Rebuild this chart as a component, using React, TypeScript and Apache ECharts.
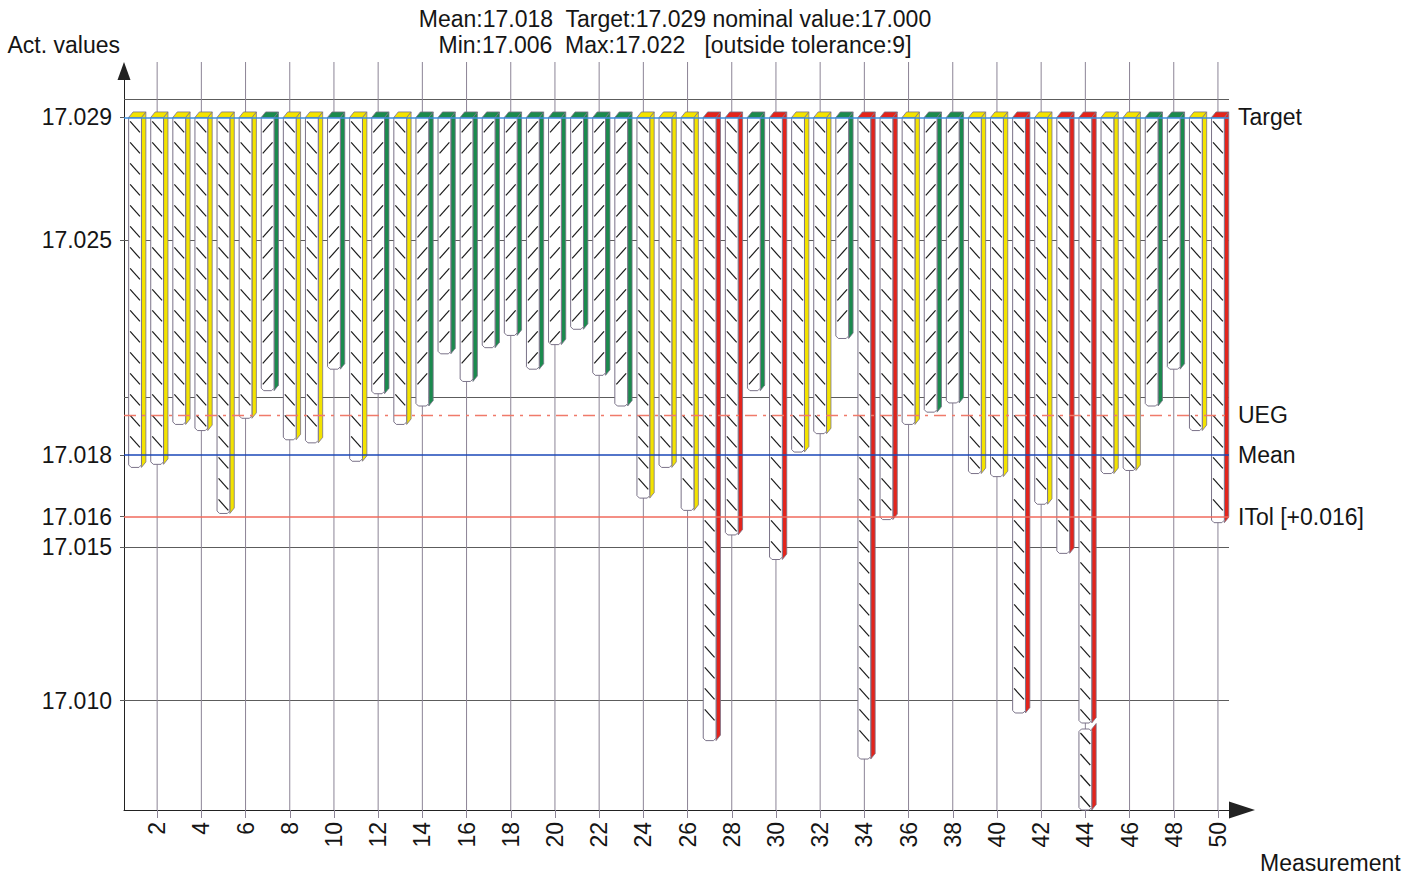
import React, { useEffect, useRef } from "react";
import * as echarts from "echarts";

// ---- data ----
const measurementLabels = [
  "1", "2", "3", "4", "5", "6", "7", "8", "9", "10",
  "11", "12", "13", "14", "15", "16", "17", "18", "19", "20",
  "21", "22", "23", "24", "25", "26", "27", "28", "29", "30",
  "31", "32", "33", "34", "35", "36", "37", "38", "39", "40",
  "41", "42", "43", "44", "45", "46", "47", "48", "49", "50",
];

const actValues = [
  17.0176, 17.0177, 17.019, 17.0188, 17.0161, 17.0192, 17.0201, 17.0185, 17.0184, 17.0208,
  17.0178, 17.02, 17.019, 17.0196, 17.0213, 17.0204, 17.0215, 17.0219, 17.0208, 17.0216,
  17.0221, 17.0206, 17.0196, 17.0166, 17.0176, 17.0162, 17.0087, 17.0154, 17.0201, 17.0146,
  17.0181, 17.0187, 17.0218, 17.0081, 17.0159, 17.019, 17.0194, 17.0197, 17.0174, 17.0173,
  17.0096, 17.0164, 17.0148, 17.006, 17.0174, 17.0175, 17.0196, 17.0208, 17.0188, 17.0158,
];

const TARGET = 17.029;
const NOMINAL = 17.0;
const MEAN = 17.018;
const MIN_VALUE = 17.006;
const MAX_VALUE = 17.022;
const OUTSIDE_TOLERANCE = 9;
const UEG = 17.0193;
const ITOL = 17.016;

const grayLineValues = [17.0296, 17.025, 17.0199, 17.015, 17.01];
const yTickValues = [17.029, 17.025, 17.018, 17.016, 17.015, 17.01];

const Y_MIN = 17.00644;
const Y_MAX = 17.03022;

// ---- styles ----
const FONT = '"Liberation Sans", Arial, Helvetica, sans-serif';
const TEXT = "#151515";
const GRID = "#8c8496";
const OUTLINE = "#7a7288";
const YELLOW = "#f3e300";
const GREEN = "#1b8a4e";
const RED = "#e3241c";

function renderBar(params: any, api: any) {
  const idx = api.value(0) as number;
  const val = api.value(1) as number;
  const cs = params.coordSys;
  const top = api.coord([idx, TARGET]);
  const cx = top[0];
  const yTop = top[1];
  const plotBottom = cs.y + cs.height;
  const slot = api.size([1, 0])[0];
  const fw = slot * 0.58;
  const dx = slot * 0.2;
  const dy = 5.5;
  const left = cx - fw / 2;
  const right = left + fw;
  const broken = val < Y_MIN;
  const yEnd = broken ? plotBottom : api.coord([idx, val])[1];
  const color = val < ITOL ? RED : val < UEG ? YELLOW : GREEN;
  const backslash = color !== GREEN;
  const children: any[] = [];

  if ((idx + 1) % 2 === 0) {
    children.push({
      type: "line",
      shape: { x1: cx, y1: cs.y - 18, x2: cx, y2: plotBottom },
      style: { stroke: GRID, lineWidth: 1 },
      silent: true,
    });
  }

  const c = 2.5;
  const piece = (y1: number, y2: number, withTop: boolean, chamferTop: boolean) => {
    children.push({
      type: "polygon",
      shape: { points: [[right, y1], [right + dx, y1 - dy], [right + dx, y2 - dy], [right, y2]] },
      style: { fill: color, stroke: OUTLINE, lineWidth: 0.8 },
    });
    const pts = chamferTop
      ? [[left + c, y1], [right - c, y1], [right, y1 + c], [right, y2 - c], [right - c, y2], [left + c, y2], [left, y2 - c], [left, y1 + c]]
      : [[left, y1], [right, y1], [right, y2 - c], [right - c, y2], [left + c, y2], [left, y2 - c]];
    children.push({
      type: "polygon",
      shape: { points: pts },
      style: { fill: "#ffffff", stroke: OUTLINE, lineWidth: 1 },
    });
    for (let y = y1 + 4; y + 11 <= y2 - 2; y += 21) {
      children.push({
        type: "line",
        shape: backslash
          ? { x1: left + 1.5, y1: y, x2: right - 1.5, y2: y + 11 }
          : { x1: left + 1.5, y1: y + 11, x2: right - 1.5, y2: y },
        style: { stroke: "#1a1a1a", lineWidth: 1.2 },
      });
    }
    if (withTop) {
      children.push({
        type: "polygon",
        shape: { points: [[left, y1], [left + dx, y1 - dy], [right + dx, y1 - dy], [right, y1]] },
        style: { fill: color, stroke: OUTLINE, lineWidth: 0.8 },
      });
    }
  };

  if (broken) {
    const br = plotBottom - 84;
    piece(yTop, br - 3, true, false);
    piece(br + 3, yEnd, false, true);
  } else {
    piece(yTop, yEnd, true, false);
  }
  return { type: "group", children };
}

export default function App() {
  const ref = useRef<HTMLDivElement>(null);

  useEffect(() => {
    if (!ref.current) return;
    const chart = echarts.init(ref.current, null, { renderer: "svg" });
    const line1 = `Mean:${MEAN.toFixed(3)}  Target:${TARGET.toFixed(3)} nominal value:${NOMINAL.toFixed(3)}`;
    const line2 = `Min:${MIN_VALUE.toFixed(3)}  Max:${MAX_VALUE.toFixed(3)}   [outside tolerance:${OUTSIDE_TOLERANCE}]`;
    const itolLabel = `ITol [+${(ITOL - NOMINAL).toFixed(3)}]`;
    const evenOnly = (i: number) => i % 2 === 1;

    chart.setOption({
      animation: false,
      backgroundColor: "#ffffff",
      textStyle: { fontFamily: FONT },
      graphic: [
        {
          type: "text",
          x: 675,
          y: 7,
          silent: true,
          style: { text: line1, align: "center", textAlign: "center", verticalAlign: "top", fontSize: 23, fontFamily: FONT, fill: TEXT },
        },
        {
          type: "text",
          x: 675,
          y: 33,
          silent: true,
          style: { text: line2, align: "center", textAlign: "center", verticalAlign: "top", fontSize: 23, fontFamily: FONT, fill: TEXT },
        },
      ],
      grid: { left: 124, right: 187, top: 80, bottom: 64, containLabel: false },
      xAxis: {
        type: "category",
        data: measurementLabels,
        boundaryGap: true,
        name: "Measurement",
        nameLocation: "end",
        nameGap: 31,
        nameTextStyle: { fontSize: 23, color: TEXT, fontFamily: FONT, align: "left", verticalAlign: "top", padding: [41, 0, 0, 0] },
        axisLine: {
          show: true,
          onZero: false,
          symbol: ["none", "triangle"],
          symbolSize: [17, 26],
          symbolOffset: [0, 13],
          lineStyle: { color: "#222", width: 1 },
        },
        axisTick: { show: true, alignWithLabel: true, interval: evenOnly, length: 8, lineStyle: { color: GRID } },
        axisLabel: { interval: evenOnly, rotate: 90, fontSize: 23, color: TEXT, fontFamily: FONT, margin: 12 },
        splitLine: { show: false },
      },
      yAxis: {
        type: "value",
        min: Y_MIN,
        max: Y_MAX,
        name: "Act. values",
        nameLocation: "end",
        nameGap: 24,
        nameTextStyle: { fontSize: 23, color: TEXT, fontFamily: FONT, align: "right", verticalAlign: "bottom", padding: [0, 4, 0, 0] },
        axisLine: {
          show: true,
          symbol: ["none", "triangle"],
          symbolSize: [13, 18],
          symbolOffset: [0, 9],
          lineStyle: { color: "#222", width: 1 },
        },
        axisTick: { show: true, customValues: yTickValues, length: 4, lineStyle: { color: "#5c5c5c" } },
        axisLabel: {
          customValues: yTickValues,
          formatter: (v: number) => v.toFixed(3),
          fontSize: 23,
          color: TEXT,
          fontFamily: FONT,
          margin: 12,
        },
        splitLine: { show: false },
      },
      series: [
        {
          type: "line",
          data: [],
          silent: true,
          markLine: {
            z: 1,
            silent: true,
            precision: 5,
            symbol: "none",
            label: { show: false },
            lineStyle: { color: "#5c5c5c", width: 1, type: "solid" },
            data: grayLineValues.map((v) => ({ yAxis: v })),
          },
        },
        {
          type: "custom",
          name: "Act. values",
          renderItem: renderBar,
          data: actValues.map((v, i) => [i, v]),
          encode: { x: 0, y: 1 },
          z: 2,
          markLine: {
            silent: true,
            precision: 5,
            symbol: "none",
            label: {
              show: true,
              position: "end",
              distance: 9,
              formatter: "{b}",
              fontSize: 23,
              color: TEXT,
              fontFamily: FONT,
              padding: [6, 0, 0, 0],
            },
            data: [
              { name: "Target", yAxis: TARGET, lineStyle: { color: "#3d8fe0", width: 1.5, type: "solid" } },
              { name: "UEG", yAxis: UEG, lineStyle: { color: "#f07a6a", width: 1.3, type: [12, 6, 3, 6] } },
              { name: "Mean", yAxis: MEAN, lineStyle: { color: "#1a47b8", width: 1.5, type: "solid" } },
              { name: itolLabel, yAxis: ITOL, lineStyle: { color: "#f06a5c", width: 1.6, type: "solid" } },
            ],
          },
        },
      ],
    });
    return () => chart.dispose();
  }, []);

  return <div ref={ref} style={{ position: "absolute", left: 0, top: 0, width: 1416, height: 874 }} />;
}
